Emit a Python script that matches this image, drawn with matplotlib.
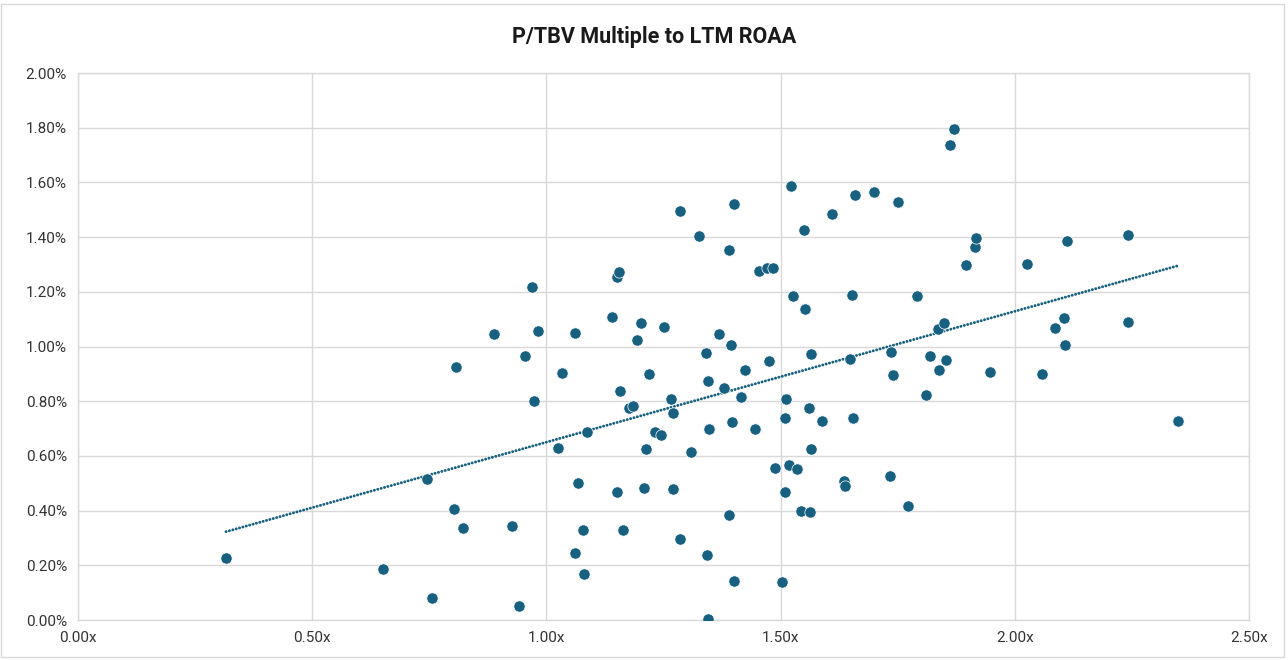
import numpy as np
import matplotlib.pyplot as plt
from matplotlib.patches import Rectangle
from matplotlib.ticker import FuncFormatter, MultipleLocator

# P/TBV multiple (x) and LTM ROAA in % (y)
ptbv = [0.316, 0.651, 0.756, 0.745, 0.803, 0.821, 0.807, 0.888, 0.927, 0.941,
        0.954, 0.970, 0.974, 0.983, 1.025, 1.033, 1.060, 1.061, 1.068, 1.079,
        1.081, 1.087, 1.139, 1.150, 1.155, 1.157, 1.150, 1.163, 1.176, 1.185,
        1.194, 1.201, 1.209, 1.213, 1.218, 1.232, 1.245, 1.250, 1.267, 1.270,
        1.270, 1.285, 1.285, 1.309, 1.325, 1.340, 1.344, 1.347, 1.342, 1.346,
        1.369, 1.379, 1.389, 1.390, 1.395, 1.397, 1.401, 1.401, 1.415, 1.425,
        1.446, 1.454, 1.470, 1.484, 1.475, 1.489, 1.504, 1.509, 1.511, 1.510,
        1.519, 1.535, 1.523, 1.526, 1.543, 1.562, 1.549, 1.552, 1.560, 1.564,
        1.565, 1.588, 1.610, 1.636, 1.638, 1.649, 1.653, 1.655, 1.658, 1.700,
        1.733, 1.736, 1.739, 1.750, 1.771, 1.792, 1.811, 1.820, 1.836, 1.839,
        1.848, 1.853, 1.862, 1.871, 1.895, 1.914, 1.917, 1.947, 2.027, 2.058,
        2.086, 2.104, 2.107, 2.111, 2.242, 2.242, 2.349]
roaa = [0.227, 0.187, 0.082, 0.517, 0.407, 0.337, 0.926, 1.045, 0.342, 0.052,
        0.966, 1.219, 0.801, 1.057, 0.630, 0.903, 0.246, 1.051, 0.500, 0.328,
        0.169, 0.686, 1.107, 1.253, 1.274, 0.837, 0.467, 0.328, 0.776, 0.782,
        1.024, 1.085, 0.482, 0.627, 0.898, 0.686, 0.676, 1.071, 0.808, 0.758,
        0.479, 1.495, 0.295, 0.614, 1.405, 0.975, 0.875, 0.700, 0.238, 0.003,
        1.047, 0.847, 0.384, 1.354, 1.006, 0.723, 1.521, 0.143, 0.817, 0.913,
        0.698, 1.275, 1.286, 1.286, 0.947, 0.557, 0.140, 0.737, 0.808, 0.468,
        0.567, 0.551, 1.587, 1.186, 0.399, 0.395, 1.425, 1.136, 0.776, 0.973,
        0.627, 0.728, 1.486, 0.508, 0.490, 0.953, 1.187, 0.737, 1.553, 1.565,
        0.525, 0.981, 0.897, 1.527, 0.417, 1.185, 0.824, 0.967, 1.063, 0.914,
        1.086, 0.951, 1.736, 1.795, 1.297, 1.365, 1.398, 0.908, 1.302, 0.898,
        1.067, 1.105, 1.007, 1.387, 1.407, 1.090, 0.728]

x = np.array(ptbv)
y = np.array(roaa)

blue = '#17607f'
grid_c = '#d9d9d9'
text_c = '#333333'

fig = plt.figure(figsize=(12.88, 6.6), dpi=100)
ax = fig.add_axes([78/1288, 1 - 620/660, (1249 - 78)/1288, (620 - 73)/660])

ax.scatter(x, y, s=66, color=blue, edgecolors='white', linewidths=0.5, zorder=3)

# linear trendline (like Excel), from min to max x
k, b = np.polyfit(x, y, 1)
xt = np.array([x.min(), x.max()])
ax.plot(xt, k * xt + b, color=blue, linewidth=2.1,
        linestyle=(0, (0.05, 1.15)), dash_capstyle='round', zorder=2)

ax.set_xlim(0, 2.5)
ax.set_ylim(0, 2.0)
ax.xaxis.set_major_locator(MultipleLocator(0.5))
ax.yaxis.set_major_locator(MultipleLocator(0.2))
ax.xaxis.set_major_formatter(FuncFormatter(lambda v, p: f'{v:.2f}x'))
ax.yaxis.set_major_formatter(FuncFormatter(lambda v, p: f'{v:.2f}%'))

ax.grid(True, color=grid_c, linewidth=1.0, zorder=0)
ax.set_axisbelow(True)
for s in ax.spines.values():
    s.set_color(grid_c)
    s.set_linewidth(1.0)
ax.tick_params(length=0, labelsize=11, labelcolor=text_c, pad=8)
for lab in ax.get_xticklabels() + ax.get_yticklabels():
    lab.set_fontfamily('Roboto')

fig.text(0.508, 1 - 37/660, 'P/TBV Multiple to LTM ROAA', ha='center', va='center',
         fontsize=15.5, fontweight='bold', family='Roboto', color='#1a1a1a')

# chart border
fig.patches.append(Rectangle((0.001, 0.004), 0.996, 0.99, transform=fig.transFigure,
                             fill=False, edgecolor=grid_c, linewidth=1.0))

fig.savefig('out.png', dpi=100)
